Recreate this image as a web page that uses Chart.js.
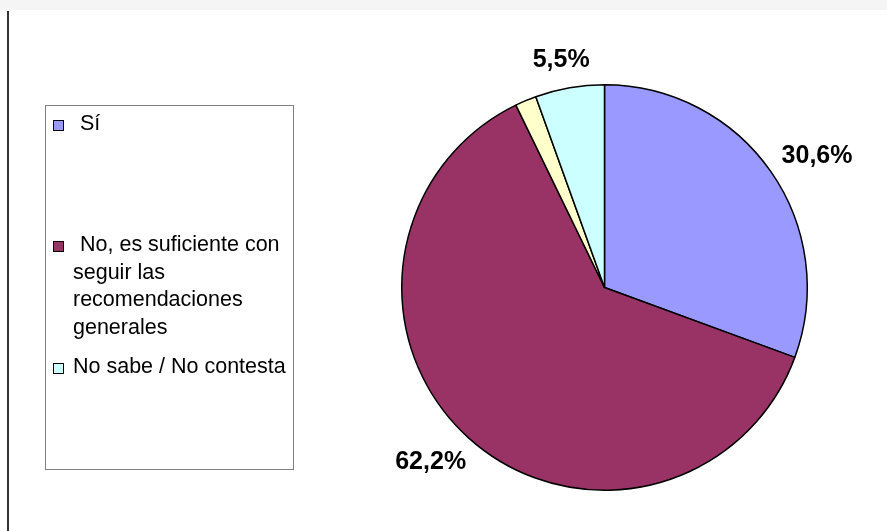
<!DOCTYPE html>
<html>
<head>
<meta charset="utf-8">
<script src="https://cdn.jsdelivr.net/npm/chart.js@4"></script>
<style>
  html, body { margin: 0; padding: 0; background: #fff; }
  #wrap { position: relative; width: 887px; height: 531px; overflow: hidden; font-family: "Liberation Sans", Arial, sans-serif; }
  #topband { position: absolute; left: 0; top: 0; width: 887px; height: 10px; background: #f5f5f5; }
  #vline { position: absolute; left: 7px; top: 11px; width: 2px; height: 520px; background: #333; }
  #chart { position: absolute; left: 0; top: 0; }
  #legend { position: absolute; left: 45px; top: 105px; width: 247px; height: 363px; border: 1px solid #808080; }
  .mk { position: absolute; width: 9px; height: 9px; border: 1.5px solid #000; }
  .tx { position: absolute; font-size: 21.5px; line-height: 27.7px; color: #000; white-space: nowrap; }
</style>
</head>
<body>
<div id="wrap">
  <div id="topband"></div>
  <div id="vline"></div>
  <canvas id="chart" width="887" height="531"></canvas>
  <div id="legend"></div>
</div>
<script>
// datos
const categorias = ["Sí", "No, es suficiente con seguir las recomendaciones generales", "", "No sabe / No contesta"];
const valores = [30.6, 62.2, 1.7, 5.5];
const colores = ["#9999FF", "#993366", "#FFFFCC", "#CCFFFF"];
const etiquetas = ["30,6%", "62,2%", "", "5,5%"];

// leyenda (solo las tres categorías que aparecen)
const legendItems = [
  { idx: 0, lines: ["Sí"], top: 110, mk: 120, indent: 7 },
  { idx: 1, lines: ["No, es suficiente con", "seguir las", "recomendaciones", "generales"], top: 231, mk: 241, indent: 7 },
  { idx: 3, lines: ["No sabe / No contesta"], top: 353, mk: 363, indent: 0 }
];

const legend = document.getElementById("legend");
legendItems.forEach(it => {
  const mk = document.createElement("div");
  mk.className = "mk";
  mk.style.left = (53 - 46) + "px";
  mk.style.top = (it.mk - 106) + "px";
  mk.style.background = colores[it.idx];
  legend.appendChild(mk);

  const tx = document.createElement("div");
  tx.className = "tx";
  tx.style.left = (73 - 46) + "px";
  tx.style.top = (it.top - 106) + "px";
  tx.style.textIndent = it.indent + "px";
  tx.innerHTML = it.lines.join("<br>");
  legend.appendChild(tx);
});

// etiquetas de porcentaje fuera de la tarta
const outsideLabels = {
  id: "outsideLabels",
  afterDatasetsDraw(chart) {
    const ctx = chart.ctx;
    const arcs = chart.getDatasetMeta(0).data;
    ctx.save();
    ctx.font = "bold 25px 'Liberation Sans', Arial, sans-serif";
    ctx.fillStyle = "#000";
    ctx.textAlign = "center";
    ctx.textBaseline = "middle";
    arcs.forEach((arc, i) => {
      const txt = etiquetas[i];
      if (!txt) return;
      const { x, y, startAngle, endAngle, outerRadius } = arc.getProps(["x", "y", "startAngle", "endAngle", "outerRadius"], true);
      const mid = (startAngle + endAngle) / 2;
      const dx = Math.cos(mid), dy = Math.sin(mid);
      const w = ctx.measureText(txt).width;
      const h = 18;
      const r = outerRadius + 21;
      const cx = x + dx * r + dx * w / 2;
      const cy = y + dy * r + dy * h / 2;
      ctx.fillText(txt, cx, cy + 2);
    });
    ctx.restore();
  }
};

new Chart(document.getElementById("chart"), {
  type: "pie",
  data: {
    labels: categorias,
    datasets: [{
      data: valores,
      backgroundColor: colores,
      borderColor: "#000",
      borderWidth: 1.5
    }]
  },
  options: {
    responsive: false,
    animation: false,
    layout: { padding: { left: 401, top: 84, right: 79, bottom: 40 } },
    plugins: {
      legend: { display: false },
      tooltip: { enabled: false }
    }
  },
  plugins: [outsideLabels]
});
</script>
</body>
</html>
